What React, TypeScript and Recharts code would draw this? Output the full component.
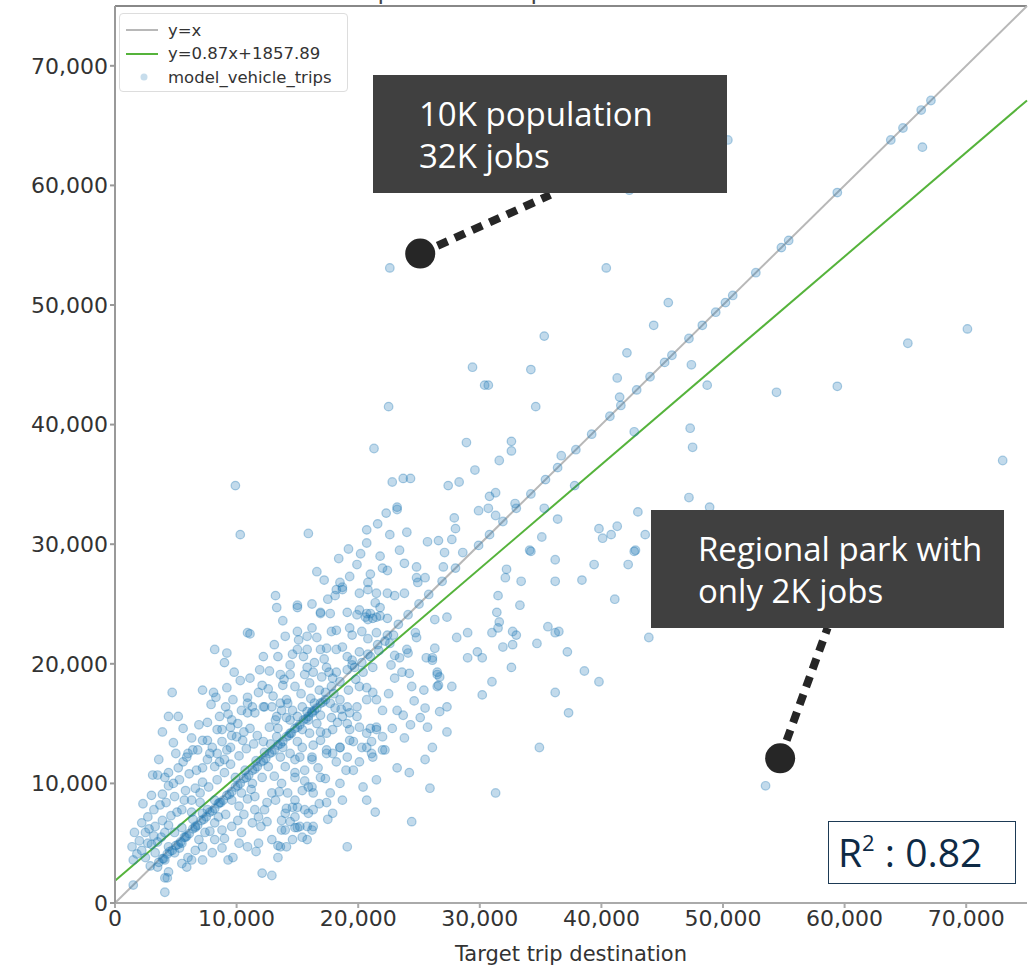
import { ScatterChart, Scatter, XAxis, YAxis, ReferenceLine, ReferenceDot } from "recharts";

// axis setup
const axisMax = 75000;
const xTicks = [0, 10000, 20000, 30000, 40000, 50000, 60000, 70000];
const yTicks = [0, 10000, 20000, 30000, 40000, 50000, 60000, 70000];

// fitted line from the legend
const fitSlope = 0.87;
const fitIntercept = 1857.89;
const r2 = "0.82";

// [target, model] pairs
const coreTrips: [number, number][] = [
  [4400, 15600], [5200, 15600], [4800, 13400], [5000, 12500], [6000, 12500], [4100, 10500], [3500, 10700], [4400, 9800],
  [5200, 11300], [5300, 10300], [3000, 9000], [3900, 9100], [4900, 8900], [5800, 9400], [6600, 9600], [7200, 10100],
  [6700, 11100], [7200, 11300], [7600, 12000], [8400, 12500], [8000, 13000], [8800, 13500], [9200, 12800], [9600, 14000],
  [6300, 8600], [7000, 8400], [5500, 7800], [6300, 7600], [7200, 7500], [7600, 7800], [8200, 8600], [8600, 8400],
  [2700, 7200], [2200, 6700], [1600, 5900], [2500, 5900], [3300, 6400], [3900, 6900], [4400, 6500], [4100, 5900],
  [4900, 5900], [5500, 6300], [1400, 4700], [2200, 4400], [2700, 5000], [3500, 5100], [1500, 3600], [2500, 3800],
  [3300, 4200], [4400, 4700], [4900, 4200], [4100, 3600], [5500, 5000], [6000, 3800], [6600, 4400], [3500, 3000],
  [4100, 2100], [4400, 2600], [5500, 3300], [6300, 3600], [7200, 3600], [5900, 3000], [4100, 900], [4300, 2100],
  [1500, 1500], [6600, 6400], [7400, 5900], [8200, 6700], [8800, 6100], [9600, 6400], [10100, 6900], [10400, 5900],
  [11300, 6700], [11800, 7200], [11500, 7800], [8200, 5300], [7200, 4700], [8000, 4200], [8800, 4600], [9300, 3600],
  [9700, 3800], [10900, 4700], [11800, 5000], [12900, 5300], [13700, 6100], [14000, 7500], [14600, 8000], [14800, 8600],
  [15600, 7800], [12100, 2500], [12900, 2300], [13400, 4800], [14800, 6300], [15800, 6400], [14100, 7900], [14800, 10500],
  [15600, 11100], [15900, 9700], [16200, 12000], [15400, 13000], [6800, 12800], [7600, 13600], [8800, 14500], [9600, 15300],
  [10400, 16100], [10900, 16700], [11500, 15900], [12300, 16400], [13200, 15300], [13700, 16100], [14200, 16700], [15400, 16400],
  [16200, 15900], [8200, 11400], [9000, 12000], [9900, 10500], [10700, 11100], [11300, 10000], [12100, 10500], [12600, 11400],
  [10400, 9200], [9600, 8600], [11500, 8900], [12900, 9200], [13700, 10000], [14000, 11400], [14800, 12000], [12300, 7800],
  [13200, 8600], [14200, 9200], [15400, 9400], [16200, 9700], [13700, 6900], [14800, 7200], [15900, 7500], [14600, 5300],
  [15400, 5500], [16200, 6100], [13400, 3800], [15000, 6300], [13600, 4700], [3100, 10700], [4400, 10900], [4700, 17600],
  [8200, 21200], [9200, 20900], [9000, 20100], [10900, 22600], [11100, 22500], [7200, 17800], [8100, 17600], [9200, 18000],
  [9700, 17000], [10900, 17200], [11300, 16400], [10900, 15900], [12200, 16400], [12900, 16400], [13600, 16700], [13300, 15600],
  [14100, 17000], [14600, 16100], [14400, 15300], [15000, 15600], [15800, 16000], [15900, 15300], [16400, 16700], [16900, 15700],
  [16600, 15000], [8600, 15600], [8400, 14500], [9500, 14700], [10000, 13900], [10500, 13600], [11100, 14600], [11700, 14000],
  [12200, 13500], [9500, 13000], [12700, 14700], [13300, 13900], [13800, 13000], [14400, 14200], [15000, 13500], [15400, 14500],
  [16000, 14200], [16300, 13200], [16900, 13600], [17400, 14200], [17400, 12800], [17900, 12500], [16200, 12200], [15200, 12200],
  [14400, 12500], [13600, 12200], [7200, 13600], [6400, 12800], [7800, 12500], [5900, 12200], [11900, 19500], [11100, 18800],
  [12100, 18200], [13600, 19100], [13800, 18200], [14400, 19900], [14400, 19100], [12200, 20600], [13400, 20600], [15000, 21200],
  [15800, 21200], [15500, 20600], [16400, 20100], [15800, 19700], [15600, 19100], [16300, 19300], [17400, 19700], [17000, 18900],
  [17900, 18800], [17800, 18100], [18200, 19300], [19100, 19500], [13200, 25700], [13300, 24700], [15000, 24900], [15000, 24700],
  [16900, 24300], [18200, 26200], [18700, 26400], [15000, 22700], [16200, 23000], [15800, 22300], [16600, 22200], [17800, 22700],
  [18200, 22800], [19500, 22400], [20300, 22700], [19300, 23000], [17400, 21300], [18200, 21200], [18700, 21400], [19100, 20600],
  [19500, 20300], [20100, 21000], [20300, 20100], [21200, 19700], [17300, 17600], [17700, 16700], [18100, 16300], [18500, 17000],
  [19100, 16400], [19300, 15900], [19900, 15600], [19100, 15000], [18300, 15100], [20100, 14700], [20700, 14200], [21500, 14500],
  [21100, 13500], [20300, 13000], [19300, 13600], [18500, 13000],
];

// second pass over the dense cloud
const coreFillTrips: [number, number][] = [
  [2000, 5200], [2800, 6200], [3200, 7800], [3700, 8200], [4200, 8400], [3000, 4900], [3800, 5500], [4600, 7300],
  [5100, 7600], [5700, 8600], [6100, 10800], [5600, 11800], [3600, 12000], [2300, 8300], [1800, 4100], [2900, 3100],
  [3200, 5600], [5300, 4600], [5800, 5500], [6900, 5300], [6400, 7000], [4800, 10000], [6300, 13800], [5600, 14600],
  [3900, 14300], [7000, 9200], [7700, 9700], [8400, 10300], [9000, 10900], [9500, 11600], [8600, 11800], [10200, 12300],
  [10800, 12900], [11400, 13300], [10600, 14300], [9300, 15800], [10100, 15000], [11800, 17600], [12600, 17900], [10300, 18600],
  [9800, 19300], [7600, 15100], [7900, 16600], [6900, 14900], [8300, 17200], [9100, 16400], [11600, 11900], [12300, 12600],
  [10200, 8100], [10900, 8700], [11200, 9500], [9100, 7400], [8500, 7200], [10600, 7400], [12000, 6400], [12500, 8400],
  [11600, 4300], [10200, 5000], [9000, 5400], [7800, 6000], [12800, 13300], [13400, 14600], [14100, 15500], [13000, 17300],
  [13900, 18700], [14800, 18100], [15300, 17500], [16100, 17100], [16800, 17800], [16000, 18400], [17200, 20400], [17600, 19300],
  [15100, 22000], [14600, 20800], [16900, 21200], [12700, 19400], [13100, 21600], [14000, 22300], [13800, 23600], [16200, 25000],
  [17500, 25400], [14800, 10900], [15600, 10200], [16700, 11300], [17300, 10400], [16800, 8300], [17500, 7000], [13100, 10600],
  [13500, 9300], [12500, 6800], [14400, 6800], [16900, 14300], [17800, 15500], [18600, 16200], [18000, 17500], [19200, 17800],
  [19800, 18700], [19500, 19900], [20400, 19300], [21000, 20600], [21700, 21100], [20800, 22100], [22200, 21900], [19000, 11100],
  [18200, 11800], [20100, 11800], [22500, 17500], [23000, 18800], [22700, 19900], [23600, 19300], [24600, 16900], [23800, 13800],
  [22800, 14600], [24300, 14900], [19300, 27300], [21000, 27500], [17200, 27000], [20200, 29200], [21800, 29000], [19200, 29600],
  [18400, 28800], [24000, 31000],
];

const spreadTrips: [number, number][] = [
  [9900, 34900], [10300, 30800], [15900, 30900], [16600, 27700], [22500, 41500], [21300, 38000], [22800, 35200], [23700, 35500],
  [24300, 35500], [21600, 31700], [22300, 32600], [23200, 33100], [23200, 32900], [20700, 31200], [20700, 30100], [22600, 30800],
  [23400, 29500], [25700, 30200], [26600, 30300], [27100, 29300], [27000, 28100], [28600, 29300], [19900, 28300], [22000, 28000],
  [22400, 27800], [23800, 28400], [24800, 28100], [24800, 27200], [24900, 26800], [25500, 27200], [18500, 26800], [18700, 26200],
  [18100, 25700], [20100, 25900], [20800, 26200], [21500, 25900], [22400, 25900], [23000, 25700], [23800, 25900], [17700, 24200],
  [16900, 24200], [19100, 24300], [19900, 24100], [20600, 23900], [21000, 24200], [21200, 23800], [21800, 24000], [22400, 23800],
  [26300, 23700], [27300, 23900], [31500, 25700], [31400, 24300], [31600, 23500], [32200, 27900], [32100, 27200], [33400, 26900],
  [33300, 24900], [34100, 29500], [36200, 28700], [36200, 26900], [38400, 27000], [39400, 28300], [41100, 25400], [42200, 28300],
  [42800, 29500], [43900, 22200], [31000, 22600], [31500, 23000], [32700, 22700], [33000, 22400], [31900, 21400], [32700, 21600],
  [34700, 21700], [35600, 23100], [36200, 22600], [36500, 22700], [37200, 21000], [38600, 19400], [39800, 18500], [32600, 19700],
  [31000, 18500], [30200, 17400], [36200, 17600], [26300, 21300], [26100, 20500], [28100, 22200], [29000, 22600], [29800, 21000],
  [30200, 20500], [29000, 20500], [26600, 18200], [27700, 18100], [25400, 17800], [24400, 18100], [26500, 19100], [24200, 19200],
  [24100, 20900], [24700, 22600], [23000, 20700], [20800, 26800], [21400, 25100], [21800, 24700], [20800, 23700], [21500, 23900],
  [20700, 24200], [20100, 24500], [21500, 22600], [22900, 22400], [22600, 21700], [24000, 21200], [23400, 20500], [24800, 22200],
  [25600, 20500], [26100, 20300], [26500, 19300], [27300, 16400], [27300, 14300], [23700, 15700], [23200, 16100], [25100, 15500],
  [25700, 14700], [25500, 16300], [20100, 18100], [20700, 18000], [21200, 17600], [21500, 17000], [20700, 17000], [19900, 16400],
  [22000, 16100], [21500, 14700], [22000, 13900], [21000, 14600], [18700, 15600], [19300, 14500], [17900, 14500], [19600, 13500],
  [18500, 13000], [17400, 12500], [19100, 12200], [20700, 13000], [21200, 12200], [22000, 12800], [21500, 10300], [20700, 8600],
  [21400, 7600], [16900, 10500], [16300, 9200], [17700, 9200], [18500, 10000], [19600, 11100], [20400, 9700], [18700, 8600],
  [17400, 8400], [16300, 7800], [17900, 7500], [15000, 8000], [15200, 6400], [16300, 6400], [15800, 5300], [14000, 6100],
  [14100, 4700], [19100, 4700], [24400, 6800], [25900, 9600], [26100, 13000], [23200, 11300], [26700, 16000], [26500, 18100],
  [26700, 18900], [25500, 12000], [24200, 10900], [22200, 12800], [21100, 12500], [34900, 13000], [31300, 9200], [37300, 15900],
];

const outlierTrips: [number, number][] = [
  [29400, 44800], [30400, 43300], [30700, 43300], [34200, 44600], [34600, 41500], [35300, 47400], [36700, 37400], [37800, 34900],
  [28900, 38500], [32600, 38600], [32600, 37800], [31600, 37000], [29600, 36200], [27400, 34900], [28300, 35200], [30800, 34000],
  [31300, 34300], [30700, 33000], [29900, 32800], [31300, 32400], [32900, 33400], [35300, 33000], [36400, 32100], [27900, 32200],
  [28000, 31300], [27700, 30400], [35100, 30600], [34200, 29400], [39800, 31300], [40100, 30500], [40800, 30800], [41300, 31500],
  [43000, 32700], [43600, 30800], [42700, 29400], [22600, 53100], [40400, 53100], [42300, 59600], [50400, 63800], [66400, 63200],
  [45500, 50200], [44300, 48300], [42100, 46000], [41300, 43900], [41500, 42300], [47400, 45000], [48700, 43300], [54400, 42700],
  [59400, 43200], [65200, 46800], [70100, 48000], [47300, 39700], [47500, 38100], [42700, 39400], [73000, 37000], [47200, 33900],
  [48900, 33100], [53500, 9800],
];

// points that sit on or just under the y = x line
const diagonalTrips: [number, number][] = [
  [3600, 3400], [4000, 3700], [4300, 4100], [4700, 4400], [5000, 4800], [5400, 5100], [5700, 5500], [6100, 5800],
  [6400, 6200], [6800, 6500], [7100, 6900], [7500, 7200], [7800, 7600], [8200, 7900], [8500, 8300], [8900, 8600],
  [9200, 9000], [9600, 9300], [9900, 9700], [10300, 10000], [10600, 10400], [11000, 10700], [11300, 11100], [11700, 11400],
  [12000, 11800], [12400, 12100], [12700, 12500], [13100, 12800], [13400, 13200], [13800, 13500], [14100, 13900], [14500, 14200],
  [14800, 14600], [15200, 14900], [15500, 15300], [15900, 15600], [16200, 16000], [16600, 16300], [16900, 16700], [17300, 17000],
  [3900, 3700], [4500, 4300], [5200, 4900], [5900, 5600], [6600, 6300], [7300, 7000], [8000, 7700], [8700, 8400],
  [9400, 9100], [10100, 9800], [10800, 10500], [11500, 11200], [12200, 11900], [12900, 12600], [13600, 13300], [14300, 14000],
  [15000, 14700], [15700, 15400], [16400, 16100], [17100, 16800],
  [18500, 18500], [19700, 19700], [20800, 20800], [21600, 21600], [22400, 22400], [23300, 23300], [24100, 24100], [25000, 25000],
  [25800, 25800], [26900, 26900], [28000, 28000], [29900, 29900], [30800, 30800], [31900, 31900], [33000, 33000], [34200, 34200],
  [35400, 35400], [36400, 36400], [37900, 37900], [39200, 39200], [40700, 40700], [41600, 41600], [42900, 42900], [44000, 44000],
  [45200, 45200], [45800, 45800], [47200, 47200], [48300, 48300], [49400, 49400], [50200, 50200], [50800, 50800], [52700, 52700],
  [54800, 54800], [55400, 55400], [59400, 59400], [63800, 63800], [64800, 64800], [66300, 66300], [67100, 67100],
];

const points = [...coreTrips, ...coreFillTrips, ...spreadTrips, ...outlierTrips, ...diagonalTrips].map(([target, model]) => ({
  target,
  model,
}));

// call-out annotations (data coordinates)
const calloutPop = { dot: { x: 25100, y: 54300 }, end: { x: 35800, y: 59200 } };
const calloutPark = { dot: { x: 54700, y: 12100 }, end: { x: 58600, y: 23000 } };

const fmt = (v: number) => v.toLocaleString("en-US");
const tickFont = { fill: "#333", fontSize: 22, fontFamily: "DejaVu Sans" };
const calloutFont = "'Open Sans', 'Noto Sans', sans-serif";

const Dot = (props: { cx?: number; cy?: number }) => (
  <circle cx={props.cx} cy={props.cy} r={4.3} fill="#1f77b4" fillOpacity={0.27} stroke="#1f77b4" strokeOpacity={0.35} strokeWidth={1.2} />
);

export default function App() {
  return (
    <div style={{ position: "absolute", left: 0, top: 0, width: 1031, height: 967, overflow: "hidden", background: "#fff" }}>
      <div
        style={{
          position: "absolute", left: 115, top: -21, width: 912, textAlign: "center",
          fontFamily: "DejaVu Sans", fontSize: 24, lineHeight: "24px", color: "#444",
        }}
      >
        Comparison of trip attractions: calibrated
      </div>
      <ScatterChart width={1031} height={967} margin={{ top: 6, right: 4, bottom: 0, left: 0 }}>
        <XAxis
          type="number"
          dataKey="target"
          domain={[0, axisMax]}
          ticks={xTicks}
          interval={0}
          allowDataOverflow
          tickFormatter={fmt}
          tick={tickFont}
          tickSize={5}
          stroke="#aaa"
          strokeWidth={2}
          height={64}
          label={{ value: "Target trip destination", position: "insideBottom", offset: 6, fill: "#333", fontSize: 21, fontFamily: "DejaVu Sans" }}
        />
        <YAxis
          type="number"
          dataKey="model"
          domain={[0, axisMax]}
          ticks={yTicks}
          interval={0}
          allowDataOverflow
          tickFormatter={fmt}
          tick={tickFont}
          tickSize={5}
          stroke="#999"
          strokeWidth={2}
          width={115}
        />
        <ReferenceLine y={axisMax} stroke="#888" strokeWidth={2} />
        <Scatter data={points} shape={<Dot />} isAnimationActive={false} />
        <ReferenceLine segment={[{ x: 0, y: 0 }, { x: axisMax, y: axisMax }]} stroke="#b8b8b8" strokeWidth={2} />
        <ReferenceLine
          segment={[{ x: 0, y: fitIntercept }, { x: axisMax, y: fitSlope * axisMax + fitIntercept }]}
          stroke="#55b33b"
          strokeWidth={2}
        />
        <ReferenceLine segment={[calloutPop.dot, calloutPop.end]} stroke="#262626" strokeWidth={8} strokeDasharray="11 8" />
        <ReferenceLine segment={[calloutPark.dot, calloutPark.end]} stroke="#262626" strokeWidth={8} strokeDasharray="11 8" />
        <ReferenceDot x={calloutPop.dot.x} y={calloutPop.dot.y} r={15} fill="#262626" stroke="none" />
        <ReferenceDot x={calloutPark.dot.x} y={calloutPark.dot.y} r={15} fill="#262626" stroke="none" />
      </ScatterChart>

      {/* legend */}
      <div
        style={{
          position: "absolute", left: 119, top: 13, width: 229, height: 79, boxSizing: "border-box",
          border: "1px solid #ddd", borderRadius: 4, background: "rgba(255,255,255,0.85)",
          fontFamily: "DejaVu Sans", fontSize: 16.5, color: "#333",
        }}
      >
        {[
          { name: "y=x", kind: "line", color: "#b8b8b8" },
          { name: "y=0.87x+1857.89", kind: "line", color: "#55b33b" },
          { name: "model_vehicle_trips", kind: "dot", color: "#1f77b4" },
        ].map((item, i) => (
          <div key={item.name} style={{ position: "absolute", left: 0, top: 5 + i * 23.5, height: 22, display: "flex", alignItems: "center" }}>
            <svg width={48} height={22}>
              {item.kind === "line" ? (
                <line x1={6} x2={38} y1={11} y2={11} stroke={item.color} strokeWidth={2} />
              ) : (
                <circle cx={24} cy={11} r={3.5} fill={item.color} fillOpacity={0.25} />
              )}
            </svg>
            <span>{item.name}</span>
          </div>
        ))}
      </div>

      {/* call-out boxes */}
      <div
        style={{
          position: "absolute", left: 373, top: 75, width: 354, height: 118, background: "#404040", color: "#fff",
          fontFamily: calloutFont, fontSize: 33, lineHeight: "42px", padding: "18px 0 0 46px", boxSizing: "border-box",
        }}
      >
        10K population
        <br />
        32K jobs
      </div>
      <div
        style={{
          position: "absolute", left: 651, top: 510, width: 353, height: 118, background: "#404040", color: "#fff",
          fontFamily: calloutFont, fontSize: 33, lineHeight: "42px", padding: "18px 0 0 47px", boxSizing: "border-box",
        }}
      >
        Regional park with
        <br />
        only 2K jobs
      </div>

      {/* R squared */}
      <div
        style={{
          position: "absolute", left: 828, top: 821, width: 188, height: 63, boxSizing: "border-box",
          border: "1.5px solid #1d3a55", background: "#fff", color: "#0e2a45",
          fontFamily: calloutFont, fontSize: 39, lineHeight: "60px", paddingLeft: 9, whiteSpace: "nowrap",
        }}
      >
        R<sup style={{ fontSize: 22, verticalAlign: "top", lineHeight: "40px" }}>2</sup> : {r2}
      </div>
    </div>
  );
}
